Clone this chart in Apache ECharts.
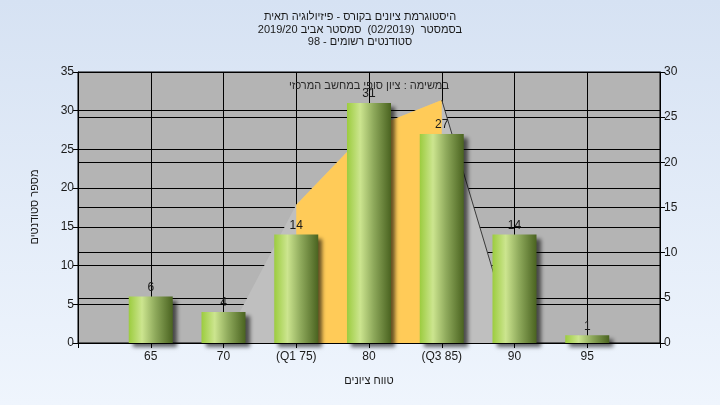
<!DOCTYPE html>
<html dir="rtl">
<head>
<meta charset="utf-8">
<script src="https://cdn.jsdelivr.net/npm/echarts@6/dist/echarts.min.js"></script>
<style>
html,body{margin:0;padding:0;}
#c{width:720px;height:405px;}
</style>
</head>
<body>
<div id="c"></div>
<script>
// Data
var grades = [65, 70, 75, 80, 85, 90, 95];
var counts = [6, 4, 14, 31, 27, 14, 1];
var tickLabels = {65: '65', 70: '70', 75: '(Q1 75)', 80: '80', 85: '(Q3 85)', 90: '90', 95: '95'};
var curveX = [70, 75, 80, 85, 90];
var curveY = [0, 15.3, 23.7, 26.9, 0];
var q1 = 75, q3 = 85;
var titleLines = ['היסטוגרמת ציונים בקורס - פיזיולוגיה תאית', 'בסמסטר  (02/2019)  סמסטר אביב 2019/20', 'סטודנטים רשומים - 98'];
var noteText = 'במשימה : ציון סופי במחשב המרכזי';
var xName = 'טווח ציונים';
var yName = 'מספר סטודנטים';

var barData = grades.map(function (g, i) { return [g, counts[i]]; });
var grayData = curveX.map(function (x, i) { return [x, curveY[i]]; });
var yellowData = [[q1, 0]];
curveX.forEach(function (x, i) { if (x >= q1 && x <= q3) yellowData.push([x, curveY[i]]); });
yellowData.push([q3, 0]);
var edgeData = grayData.slice(curveX.indexOf(q3));

var font = '"Liberation Sans", Arial, sans-serif';
var titleY = [17, 30, 42];
var graphics = titleLines.map(function (t, i) {
  return {type: 'text', x: 360, y: titleY[i], z: 100,
    style: {text: t, fontSize: 11, fill: '#1a1a1a', fontFamily: font, textAlign: 'center', textVerticalAlign: 'middle'}};
});
graphics.push({type: 'text', x: 369, y: 86, z: 100,
  style: {text: noteText, fontSize: 11, fill: '#2a2a2a', fontFamily: font, textAlign: 'center', textVerticalAlign: 'middle'}});
graphics.push({type: 'text', x: 35, y: 207, rotation: Math.PI / 2, z: 100,
  style: {text: yName, fontSize: 11, fill: '#1a1a1a', fontFamily: font, textAlign: 'center', textVerticalAlign: 'middle'}});

var chart = echarts.init(document.getElementById('c'));
chart.setOption({
  backgroundColor: new echarts.graphic.LinearGradient(0, 0, 0, 1, [
    {offset: 0, color: '#d6e2f3'}, {offset: 1, color: '#eff5fd'}
  ]),
  animation: false,
  textStyle: {fontFamily: font},
  grid: {left: 78, right: 60, top: 72, bottom: 62, show: true, backgroundColor: '#b4b4b4', borderColor: '#000', borderWidth: 1},
  xAxis: {
    type: 'value', min: 60, max: 100, interval: 5,
    name: xName, nameLocation: 'middle', nameGap: 32,
    nameTextStyle: {fontSize: 11, color: '#1a1a1a', fontFamily: font},
    axisLine: {show: true, lineStyle: {color: '#000'}},
    axisTick: {show: true, length: 5, lineStyle: {color: '#000'}},
    axisLabel: {fontSize: 12, color: '#1a1a1a', margin: 8, formatter: function (v) { return tickLabels[v] || ''; }},
    splitLine: {show: true, lineStyle: {color: '#000', width: 1}}
  },
  yAxis: [{
    type: 'value', min: 0, max: 35, interval: 5, position: 'left',
    axisLine: {show: true, lineStyle: {color: '#000'}},
    axisTick: {show: true, length: 5, lineStyle: {color: '#000'}},
    axisLabel: {fontSize: 12, color: '#1a1a1a', margin: 4},
    splitLine: {show: true, lineStyle: {color: '#000', width: 1}}
  }, {
    type: 'value', min: 0, max: 30, interval: 5, position: 'right',
    axisLine: {show: true, lineStyle: {color: '#000'}},
    axisTick: {show: true, length: 5, lineStyle: {color: '#000'}},
    axisLabel: {fontSize: 12, color: '#1a1a1a', margin: 4},
    splitLine: {show: true, lineStyle: {color: '#000', width: 1}}
  }],
  graphic: graphics,
  series: [{
    type: 'line', yAxisIndex: 1, data: grayData, symbol: 'none', z: 1,
    lineStyle: {width: 0}, areaStyle: {color: '#bfbfbf', opacity: 1}, silent: true
  }, {
    type: 'line', yAxisIndex: 1, data: yellowData, symbol: 'none', z: 2,
    lineStyle: {width: 0}, areaStyle: {color: '#ffcb58', opacity: 1}, silent: true
  }, {
    type: 'line', yAxisIndex: 1, data: edgeData, symbol: 'none', z: 3,
    lineStyle: {width: 1, color: '#3a3a3a'}, silent: true
  }, {
    type: 'bar', yAxisIndex: 0, data: barData, barWidth: 44, z: 5,
    itemStyle: {
      color: new echarts.graphic.LinearGradient(0, 0, 1, 0, [
        {offset: 0, color: '#9ccc3f'},
        {offset: 0.3, color: '#cce58f'},
        {offset: 0.6, color: '#8faa5c'},
        {offset: 1, color: '#4a6320'}
      ]),
      shadowColor: 'rgba(0,0,0,0.6)', shadowBlur: 4, shadowOffsetX: 4, shadowOffsetY: 4
    },
    label: {show: true, position: 'top', distance: 3, fontSize: 12, color: '#1a1a1a', fontFamily: font}
  }]
});
</script>
</body>
</html>
